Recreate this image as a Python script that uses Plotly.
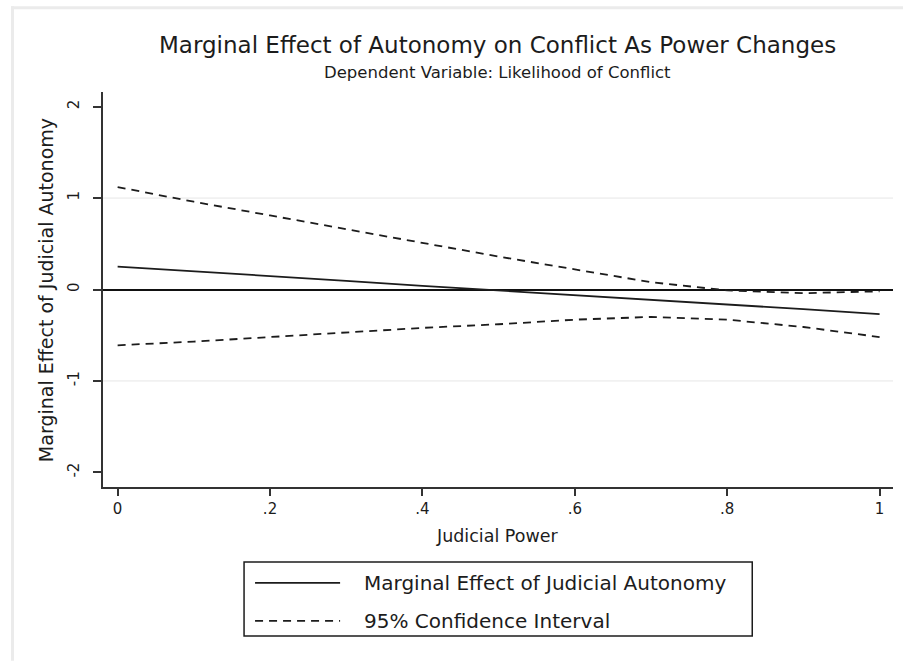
import plotly.graph_objects as go

# Judicial power grid and estimated marginal effects with 95% bounds
power = [0.0, 0.1, 0.2, 0.3, 0.4, 0.5, 0.6, 0.7, 0.8, 0.9, 1.0]
effect = [0.25, 0.20, 0.145, 0.095, 0.04, -0.01, -0.06, -0.11, -0.165, -0.215, -0.27]
ci_upper = [1.12, 0.96, 0.81, 0.66, 0.51, 0.36, 0.22, 0.08, -0.01, -0.04, -0.02]
ci_lower = [-0.61, -0.57, -0.52, -0.47, -0.42, -0.38, -0.33, -0.30, -0.33, -0.41, -0.52]

x_ticks = [0, 0.2, 0.4, 0.6, 0.8, 1.0]
x_tick_text = ["0", ".2", ".4", ".6", ".8", "1"]
y_ticks = [-2, -1, 0, 1, 2]
y_tick_text = ["-2", "-1", "0", "1", "2"]

title = "Marginal Effect of Autonomy on Conflict As Power Changes"
subtitle = "Dependent Variable: Likelihood of Conflict"
x_title = "Judicial Power"
y_title = "Marginal Effect of Judicial Autonomy"
legend_labels = ["Marginal Effect of Judicial Autonomy", "95% Confidence Interval"]

W, H = 903, 661
L, R, T, B = 103, 10.3, 91.7, 174
PW, PH = W - L - R, H - T - B
FONT = "DejaVu Sans"
INK = "#1c1c1c"


def px(x):
    return (x - L) / PW


def py(y):
    return (H - B - y) / PH


fig = go.Figure()
fig.add_trace(go.Scatter(x=power, y=ci_upper, mode="lines",
                         line=dict(color=INK, width=1.8, dash="8px,6px"),
                         showlegend=False, hoverinfo="skip"))
fig.add_trace(go.Scatter(x=power, y=ci_lower, mode="lines",
                         line=dict(color=INK, width=1.8, dash="8px,6px"),
                         showlegend=False, hoverinfo="skip"))
fig.add_trace(go.Scatter(x=power, y=effect, mode="lines",
                         line=dict(color=INK, width=1.8),
                         showlegend=False))

shapes = []
# light frame along the top and left edges
shapes.append(dict(type="rect", xref="paper", yref="paper", x0=px(11), x1=px(903),
                   y0=py(9), y1=py(6), fillcolor="#ebebeb", line=dict(width=0), layer="below"))
shapes.append(dict(type="rect", xref="paper", yref="paper", x0=px(11), x1=px(14),
                   y0=py(661), y1=py(6), fillcolor="#ebebeb", line=dict(width=0), layer="below"))
# horizontal grid at the inner ticks
for g in (1, -1):
    shapes.append(dict(type="line", xref="paper", yref="y", x0=0, x1=1, y0=g, y1=g,
                       line=dict(color="#e6e6e6", width=1), layer="below"))
# legend box with line samples
shapes.append(dict(type="rect", xref="paper", yref="paper", x0=px(244), x1=px(752),
                   y0=py(636), y1=py(562), line=dict(color=INK, width=1.5),
                   fillcolor="white"))
shapes.append(dict(type="line", xref="paper", yref="paper", x0=px(255), x1=px(340),
                   y0=py(583), y1=py(583), line=dict(color=INK, width=1.8)))
shapes.append(dict(type="line", xref="paper", yref="paper", x0=px(255), x1=px(340),
                   y0=py(621), y1=py(621), line=dict(color=INK, width=1.8, dash="8px,6px")))

annotations = [
    dict(text=title, x=px(497), y=py(45), xref="paper", yref="paper", showarrow=False,
         xanchor="center", yanchor="middle", font=dict(family=FONT, size=23, color=INK)),
    dict(text=subtitle, x=px(497), y=py(72), xref="paper", yref="paper", showarrow=False,
         xanchor="center", yanchor="middle", font=dict(family=FONT, size=16.5, color=INK)),
    dict(text=x_title, x=px(497), y=py(536), xref="paper", yref="paper", showarrow=False,
         xanchor="center", yanchor="middle", font=dict(family=FONT, size=17.5, color=INK)),
    dict(text=y_title, x=px(46), y=py(290), xref="paper", yref="paper", showarrow=False,
         textangle=-90, xanchor="center", yanchor="middle",
         font=dict(family=FONT, size=19, color=INK)),
    dict(text=legend_labels[0], x=px(362), y=py(583), xref="paper", yref="paper",
         showarrow=False, xanchor="left", yanchor="middle",
         font=dict(family=FONT, size=20, color=INK)),
    dict(text=legend_labels[1], x=px(362), y=py(621), xref="paper", yref="paper",
         showarrow=False, xanchor="left", yanchor="middle",
         font=dict(family=FONT, size=20, color=INK)),
]

fig.update_layout(
    width=W, height=H,
    margin=dict(l=L, r=R, t=T, b=B),
    paper_bgcolor="white", plot_bgcolor="white",
    showlegend=False,
    shapes=shapes, annotations=annotations,
    font=dict(family=FONT, color=INK),
)
fig.update_xaxes(range=[-0.0192, 1.0176], tickvals=x_ticks, ticktext=x_tick_text,
                 showgrid=False, zeroline=False, showline=True, linewidth=2,
                 linecolor="#333333", ticks="outside", ticklen=7, tickwidth=2,
                 tickcolor="#333333", tickfont=dict(family=FONT, size=15, color=INK))
fig.update_yaxes(range=[-2.16, 2.16], tickvals=y_ticks, ticktext=y_tick_text,
                 tickangle=-90, showgrid=False, zeroline=True, zerolinecolor="#111111",
                 zerolinewidth=1.5, showline=True, linewidth=2, linecolor="#333333",
                 ticks="outside", ticklen=8, tickwidth=2, tickcolor="#333333",
                 ticklabelstandoff=8,
                 tickfont=dict(family=FONT, size=15, color=INK))

fig.write_html("out.html")
